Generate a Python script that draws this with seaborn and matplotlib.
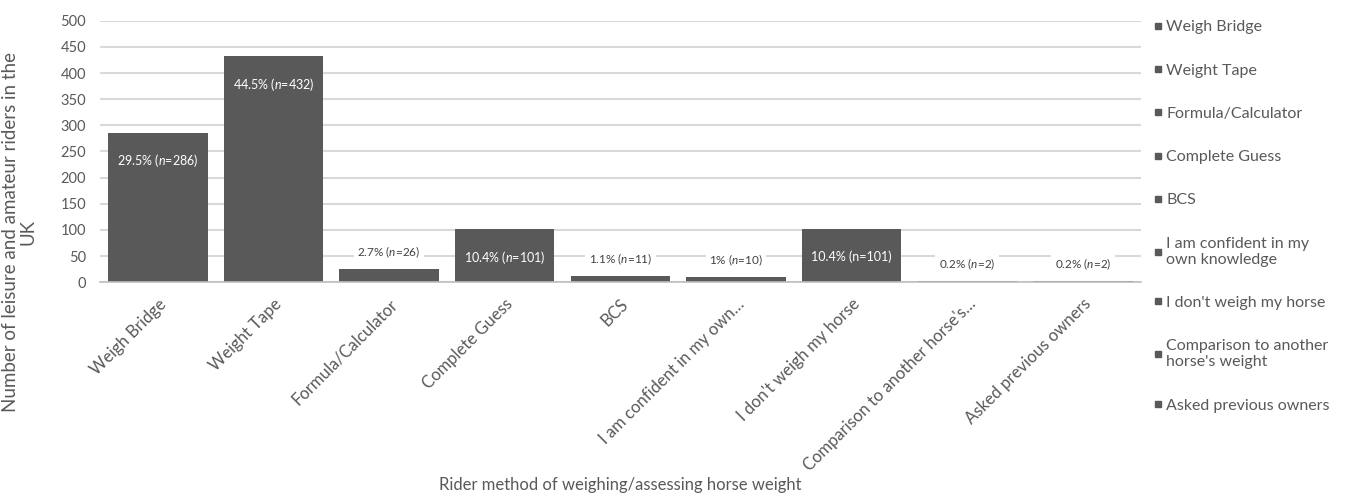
import matplotlib
matplotlib.use("Agg")
import matplotlib.pyplot as plt
import seaborn as sns
import pandas as pd
from matplotlib.lines import Line2D

categories = ["Weigh Bridge", "Weight Tape", "Formula/Calculator", "Complete Guess", "BCS",
              "I am confident in my own knowledge", "I don't weigh my horse",
              "Comparison to another horse's weight", "Asked previous owners"]
tick_labels = ["Weigh Bridge", "Weight Tape", "Formula/Calculator", "Complete Guess", "BCS",
               "I am confident in my own…", "I don't weigh my horse",
               "Comparison to another horse's…", "Asked previous owners"]
legend_labels = ["Weigh Bridge", "Weight Tape", "Formula/Calculator", "Complete Guess", "BCS",
                 "I am confident in my\nown knowledge", "I don't weigh my horse",
                 "Comparison to another\nhorse's weight", "Asked previous owners"]
counts = [286, 432, 26, 101, 11, 10, 101, 2, 2]
percents = ["29.5%", "44.5%", "2.7%", "10.4%", "1.1%", "1%", "10.4%", "0.2%", "0.2%"]
italic_n = [True, True, True, True, True, True, False, True, True]

BAR = "#595959"
FONT = ["Lato", "DejaVu Sans"]

sns.set_style("white")
plt.rcParams["font.family"] = FONT
plt.rcParams["mathtext.fontset"] = "custom"
plt.rcParams["mathtext.it"] = "Lato:italic"
plt.rcParams["mathtext.rm"] = "Lato"

df = pd.DataFrame({"method": categories, "count": counts})

fig = plt.figure(figsize=(13.64, 4.95), dpi=100)
ax = fig.add_axes([0.0733, 0.430, 0.763, 0.528])

sns.barplot(data=df, x="method", y="count", color=BAR, saturation=1, width=0.86, ax=ax, zorder=2)
for p in ax.patches:
    p.set_edgecolor("none")

ax.set_ylim(0, 500)
ax.set_xlim(-0.5, len(categories) - 0.5)
ax.set_yticks(range(0, 501, 50))
ax.yaxis.grid(True, color="#d9d9d9", linewidth=1.5, zorder=0)
ax.set_axisbelow(True)
for s in ["left", "right", "top"]:
    ax.spines[s].set_visible(False)
ax.spines["bottom"].set_color("#bfbfbf")
ax.spines["bottom"].set_linewidth(1.2)

ax.set_xticks(range(len(categories)))
ax.set_xticklabels(tick_labels, rotation=45, ha="right", rotation_mode="anchor",
                   fontsize=12, color="#595959")
ax.tick_params(axis="x", which="major", length=0, pad=10)
ax.set_xticks([i - 0.5 for i in range(len(categories) + 1)], minor=True)
ax.tick_params(axis="x", which="minor", length=5, color="#bfbfbf", width=1.2)
ax.tick_params(axis="y", length=0, labelsize=10.5, labelcolor="#595959", pad=10)

ax.set_ylabel("Number of leisure and amateur riders in the\nUK", fontsize=13.5, color="#595959",
              linespacing=1.0)
ax.yaxis.set_label_coords(-0.061, 0.19)
ax.set_xlabel("Rider method of weighing/assessing horse weight", fontsize=12, color="#595959")
ax.xaxis.set_label_coords(0.5, -0.745)

for i, (c, pct, it) in enumerate(zip(counts, percents, italic_n)):
    n = "$n$" if it else "n"
    txt = f"{pct} ({n}={c})"
    if c > 60:
        ax.annotate(txt, (i, c), xytext=(0, -20), textcoords="offset points",
                    ha="center", va="center", fontsize=9, color="white", zorder=4)
    else:
        ax.annotate(txt, (i, c), xytext=(0, 12), textcoords="offset points",
                    ha="center", va="center", fontsize=8.5, color="#404040", zorder=4,
                    bbox=dict(boxstyle="square,pad=0.3", fc="white", ec="none"))

handles = [Line2D([], [], marker="s", linestyle="none", markersize=4,
                  markerfacecolor=BAR, markeredgecolor=BAR) for _ in categories]
fig.legend(handles, legend_labels, loc="upper left", bbox_to_anchor=(0.834, 0.988),
           frameon=False, fontsize=11.5, labelspacing=1.82, handletextpad=0.1,
           handlelength=0.8, labelcolor="#595959")

fig.savefig("out.png", dpi=100)
